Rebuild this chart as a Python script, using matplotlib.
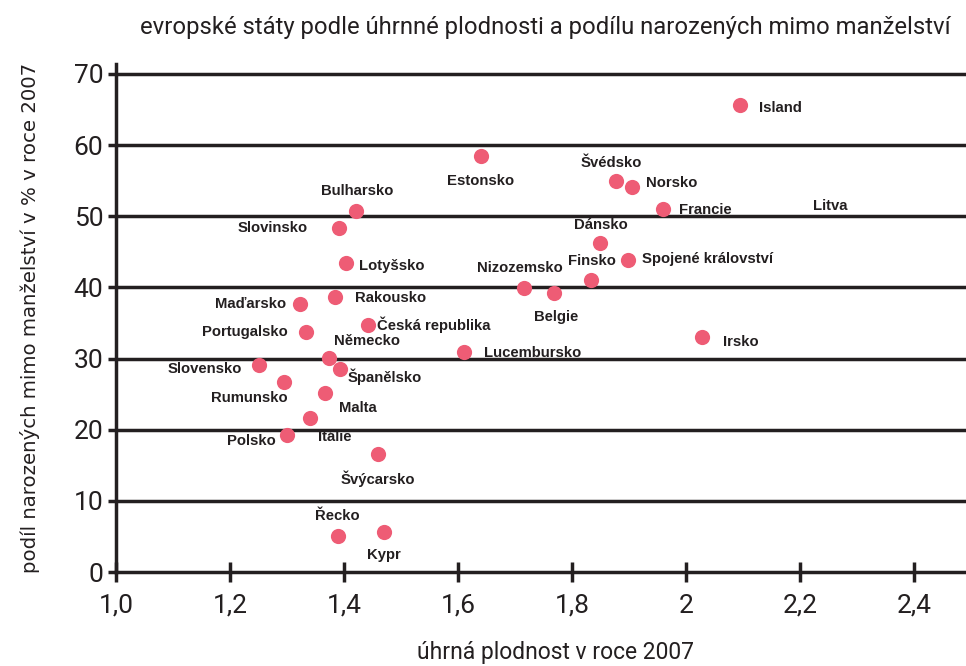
import matplotlib.pyplot as plt

# data
countries = ["Island", "Estonsko", "Švédsko", "Norsko", "Francie", "Bulharsko",
             "Slovinsko", "Dánsko", "Spojené království", "Lotyšsko", "Finsko",
             "Nizozemsko", "Belgie", "Maďarsko", "Rakousko", "Česká republika",
             "Portugalsko", "Irsko", "Německo", "Lucembursko", "Slovensko",
             "Španělsko", "Rumunsko", "Malta", "Itálie", "Polsko", "Švýcarsko",
             "Řecko", "Kypr"]
fertility = [2.095, 1.640, 1.877, 1.905, 1.960, 1.421, 1.391, 1.849, 1.898, 1.404,
             1.833, 1.716, 1.768, 1.323, 1.384, 1.442, 1.334, 2.028, 1.373, 1.611,
             1.251, 1.393, 1.295, 1.367, 1.340, 1.300, 1.460, 1.389, 1.470]
outside_marriage = [65.6, 58.4, 54.9, 54.1, 51.0, 50.8, 48.3, 46.3, 43.8, 43.4,
                    41.0, 39.9, 39.2, 37.6, 38.6, 34.7, 33.8, 33.0, 30.1, 30.9,
                    29.1, 28.5, 26.7, 25.1, 21.6, 19.2, 16.6, 5.1, 5.6]
# label placement: (dx, dy in pixels, horizontal alignment)
label_pos = [(19, -3, "left"), (0, -25, "center"), (-5, 18, "center"), (14, 4, "left"),
             (16, -1, "left"), (1, 20, "center"), (-31, 0, "right"), (1, 18, "center"),
             (14, 1, "left"), (13, -3, "left"), (1, 19, "center"), (-4, 20, "center"),
             (2, -24, "center"), (-14, 0, "right"), (20, -1, "left"), (9, 0, "left"),
             (-19, 0, "right"), (21, -5, "left"), (5, 17, "left"), (20, -1, "left"),
             (-17, -4, "right"), (8, -8, "left"), (4, -16, "right"), (14, -15, "left"),
             (8, -19, "left"), (-11, -6, "right"), (0, -25, "center"), (0, 20, "center"),
             (0, -23, "center")]

xticks = [1.0, 1.2, 1.4, 1.6, 1.8, 2.0, 2.2, 2.4]
xticklabels = ["1,0", "1,2", "1,4", "1,6", "1,8", "2", "2,2", "2,4"]
yticks = [0, 10, 20, 30, 40, 50, 60, 70]

narrow = "Roboto"
ink = "#231f20"

fig = plt.figure(figsize=(9.66, 6.66), dpi=100)
ax = fig.add_axes([0.120, 0.1411, 0.880, 0.7629])

ax.scatter(fertility, outside_marriage, s=120, color="#ee5c75", zorder=3, linewidths=0)
for name, x, y, (dx, dy, ha) in zip(countries, fertility, outside_marriage, label_pos):
    ax.annotate(name, (x, y), xytext=(dx, dy), textcoords="offset pixels",
                ha=ha, va="center", fontsize=10.7, fontweight="bold",
                family="Liberation Sans", color=ink)
ax.text(2.223, 51.5, "Litva", ha="left", va="center", fontsize=10.7,
        fontweight="bold", family="Liberation Sans", color=ink)

ax.set_xlim(1.0, 2.491)
ax.set_ylim(0, 71.4)
ax.set_xticks(xticks)
ax.set_xticklabels(xticklabels)
ax.set_yticks(yticks)
for v in yticks[1:]:
    ax.axhline(v, color=ink, lw=2.5, zorder=1)

for s in ["top", "right"]:
    ax.spines[s].set_visible(False)
for s in ["left", "bottom"]:
    ax.spines[s].set_linewidth(2.5)
    ax.spines[s].set_color(ink)
    ax.spines[s].set_zorder(2)

ax.tick_params(axis="x", direction="inout", length=15, width=2.5, color=ink,
               labelsize=19, pad=8)
ax.tick_params(axis="y", direction="out", length=6, width=2.5, color=ink,
               labelsize=19, pad=3)
for lab in ax.get_xticklabels() + ax.get_yticklabels():
    lab.set_family(narrow)
    lab.set_color(ink)

fig.text(0.564, 0.958, "evropské státy podle úhrnné plodnosti a podílu narozených mimo manželství",
         ha="center", va="center", fontsize=17.2, family=narrow, color=ink)
fig.text(0.575, 0.021, "úhrná plodnost v roce 2007", ha="center", va="center",
         fontsize=16.5, family=narrow, color=ink)
fig.text(0.031, 0.522, "podíl narozených mimo manželství v % v roce 2007", rotation=90,
         ha="center", va="center", fontsize=14.2, family="DejaVu Sans", color=ink)

fig.savefig("out.png", dpi=100)
